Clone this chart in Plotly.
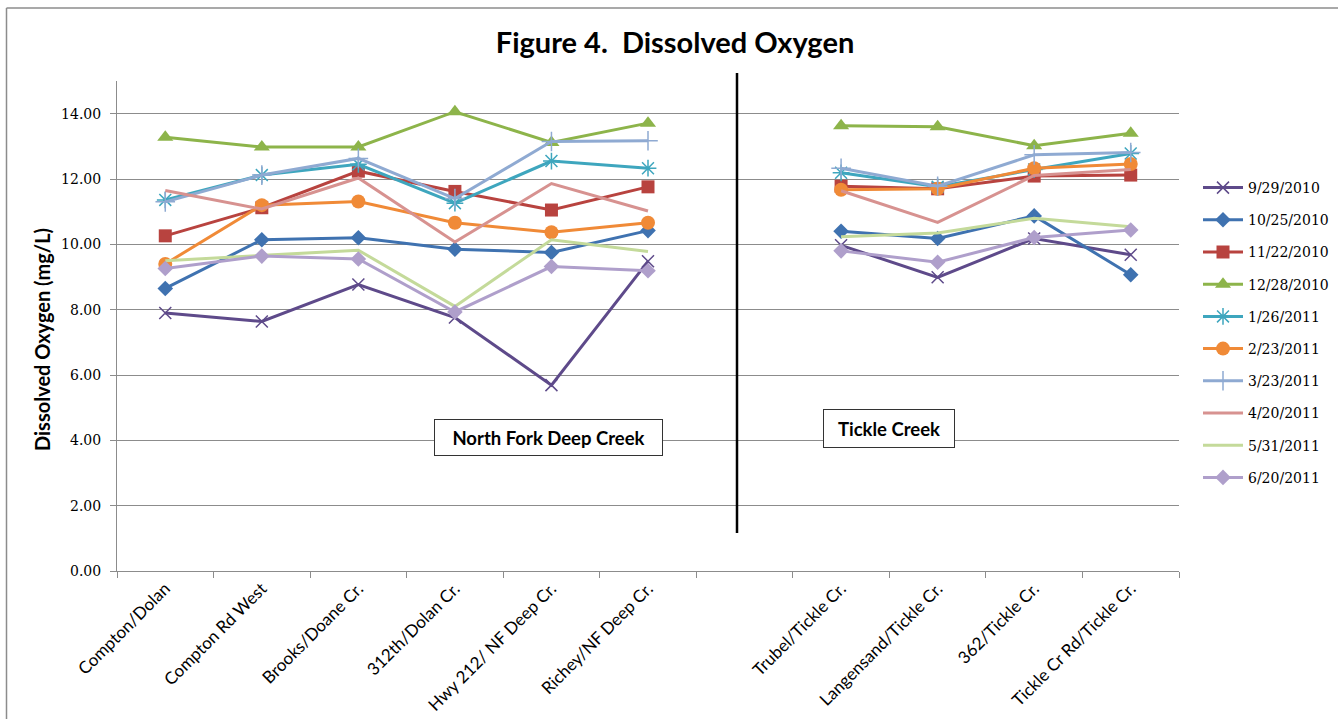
import plotly.graph_objects as go

# Sampling sites (a blank slot separates the two creeks)
sites = ["Compton/Dolan", "Compton Rd West", "Brooks/Doane Cr.", "312th/Dolan Cr.",
         "Hwy 212/ NF Deep Cr.", "Richey/NF Deep Cr.", " ",
         "Trubel/Tickle Cr.", "Langensand/Tickle Cr.", "362/Tickle Cr.", "Tickle Cr Rd/Tickle Cr."]

dates = ["9/29/2010", "10/25/2010", "11/22/2010", "12/28/2010", "1/26/2011",
         "2/23/2011", "3/23/2011", "4/20/2011", "5/31/2011", "6/20/2011"]

# Dissolved oxygen (mg/L); None marks the gap between the creeks
do_0929 = [7.90, 7.64, 8.77, 7.76, 5.69, 9.48, None, 9.97, 8.99, 10.18, 9.68]
do_1025 = [8.65, 10.14, 10.20, 9.85, 9.75, 10.42, None, 10.40, 10.18, 10.87, 9.07]
do_1122 = [10.26, 11.12, 12.24, 11.62, 11.05, 11.76, None, 11.78, 11.70, 12.09, 12.12]
do_1228 = [13.28, 12.98, 12.98, 14.06, 13.12, 13.71, None, 13.63, 13.60, 13.02, 13.40]
do_0126 = [11.36, 12.12, 12.45, 11.26, 12.55, 12.33, None, 12.19, 11.76, 12.29, 12.78]
do_0223 = [9.40, 11.20, 11.31, 10.66, 10.37, 10.66, None, 11.67, 11.70, 12.33, 12.46]
do_0323 = [11.30, 12.12, 12.63, 11.40, 13.15, 13.17, None, 12.33, 11.78, 12.74, 12.81]
do_0420 = [11.65, 11.08, 12.03, 10.07, 11.86, 11.02, None, 11.64, 10.67, 12.11, 12.29]
do_0531 = [9.50, 9.67, 9.82, 8.10, 10.14, 9.78, None, 10.23, 10.35, 10.80, 10.54]
do_0620 = [9.26, 9.64, 9.55, 7.93, 9.32, 9.19, None, 9.80, 9.45, 10.21, 10.44]

series = [do_0929, do_1025, do_1122, do_1228, do_0126,
          do_0223, do_0323, do_0420, do_0531, do_0620]

colors = ["#5E4A8A", "#3F72B0", "#B8433F", "#8DB44A", "#3EA6BE",
          "#F08A37", "#8FAAD2", "#D79290", "#C4DA9A", "#AF9FCB"]

symbols = ["x-thin", "diamond", "square", "triangle-up", "asterisk",
           "circle", "cross-thin", None, None, "diamond"]
sizes = [12, 12, 13, 14, 14, 14, 14, 0, 0, 12]

fig = go.Figure()
for i, (name, vals) in enumerate(zip(dates, series)):
    sym = symbols[i]
    thin = sym in ("x-thin", "asterisk", "cross-thin")
    if sym is None:
        mode = "lines"
        marker = None
    else:
        mode = "lines+markers"
        marker = dict(symbol=sym, size=sizes[i], color=colors[i],
                      line=dict(color=colors[i], width=1.5 if thin else 0))
    fig.add_trace(go.Scatter(
        x=sites, y=vals, name=name, mode=mode,
        line=dict(color=colors[i], width=3),
        marker=marker, connectgaps=False,
        legendgroup=name,
    ))

grid = "#8C8C8C"
sans = "Lato"
serif = "DejaVu Serif"

fig.update_layout(
    width=1338, height=719,
    margin=dict(l=117, r=159, t=81, b=148, autoexpand=False),
    paper_bgcolor="white", plot_bgcolor="white",
    showlegend=True,
    title=dict(text="Figure 4.\u00a0 Dissolved Oxygen", x=0.5045, xref="container",
               y=1 - 43 / 719, yref="container", yanchor="middle", xanchor="center",
               font=dict(family=sans, size=29, color="black", weight="bold")),
    legend=dict(xref="container", yref="container", x=1198 / 1338, xanchor="left",
                y=1 - 172 / 719, yanchor="top",
                font=dict(family=serif, size=14, color="black"),
                tracegroupgap=11, bgcolor="rgba(0,0,0,0)", itemwidth=40),
    xaxis=dict(type="category", categoryorder="array", categoryarray=sites,
               tickson="boundaries", ticks="outside", ticklen=6, tickcolor=grid,
               showline=True, linecolor=grid, linewidth=1, showgrid=False,
               tickangle=-45, tickfont=dict(family=sans, size=17, color="black"),
               range=[-0.5, 10.5], fixedrange=True),
    yaxis=dict(range=[0, 15], tickvals=[0, 2, 4, 6, 8, 10, 12, 14],
               tickformat=".2f", ticks="outside", ticklen=6, tickcolor=grid,
               showline=True, linecolor=grid, linewidth=1, ticklabelstandoff=6,
               showgrid=True, gridcolor=grid, gridwidth=1, zeroline=False,
               tickfont=dict(family=serif, size=14, color="black")),
)

# y-axis title
fig.add_annotation(text="Dissolved Oxygen (mg/L)", xref="paper", yref="paper",
                   x=(42 - 117) / 1062, y=(571 - 340) / 490, textangle=-90,
                   showarrow=False, xanchor="center", yanchor="middle",
                   font=dict(family=sans, size=20, color="black", weight="bold"))

# creek labels in boxes
fig.add_annotation(text="North Fork Deep Creek", xref="paper", yref="paper",
                   x=(548 - 117) / 1062, y=(571 - 437) / 490, showarrow=False,
                   xanchor="center", yanchor="middle",
                   width=219, height=27, borderpad=4, bordercolor="#333333",
                   borderwidth=1, bgcolor="white",
                   font=dict(family=sans, size=18.5, color="black", weight="bold"))
fig.add_annotation(text="Tickle Creek", xref="paper", yref="paper",
                   x=(889 - 117) / 1062, y=(571 - 428) / 490, showarrow=False,
                   xanchor="center", yanchor="middle",
                   width=122, height=29, borderpad=4, bordercolor="#333333",
                   borderwidth=1, bgcolor="white",
                   font=dict(family=sans, size=18.5, color="black", weight="bold"))

# divider between the two creeks
xd = (737 - 117) / 1062
fig.add_shape(type="line", xref="paper", yref="paper",
              x0=xd, x1=xd, y0=(571 - 533) / 490, y1=(571 - 73) / 490,
              line=dict(color="black", width=2.5))

# chart border (top and left edges)
bx = (6.5 - 117) / 1062
by = (571 - 8) / 490
fig.add_shape(type="line", xref="paper", yref="paper", x0=bx, x1=(1338 - 117) / 1062,
              y0=by, y1=by, line=dict(color="#8C8C8C", width=1.5))
fig.add_shape(type="line", xref="paper", yref="paper", x0=bx, x1=bx,
              y0=by, y1=(571 - 719) / 490, line=dict(color="#8C8C8C", width=1.5))

fig.write_html("out.html")
